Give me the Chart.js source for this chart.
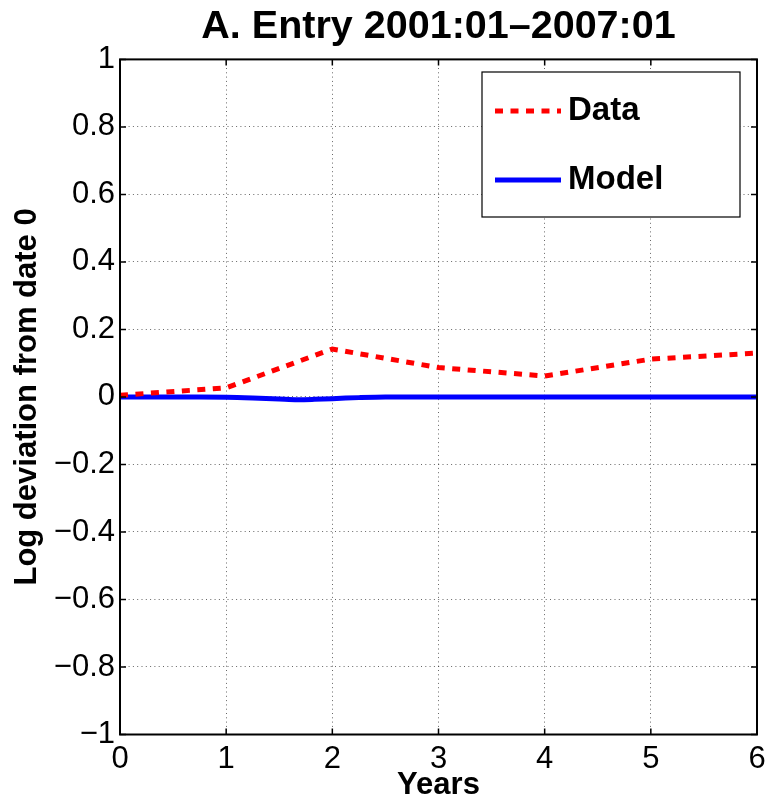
<!DOCTYPE html>
<html>
<head>
<meta charset="utf-8">
<style>
  html, body { margin: 0; padding: 0; background: #fff; }
  canvas { display: block; }
</style>
<script src="https://cdn.jsdelivr.net/npm/chart.js@4/dist/chart.umd.min.js"></script>
</head>
<body>
<canvas id="entryChart" width="770" height="803"></canvas>
<script>
// yearly data points
const years = [0, 1, 2, 3, 4, 5, 6];
const dataValues = [0.005, 0.027, 0.142, 0.087, 0.062, 0.112, 0.13];

// model path
const modelYears = [0, 0.5, 1, 1.25, 1.5, 1.67, 1.83, 2, 2.25, 2.5, 3, 4, 5, 6];
const modelValues = [0, 0, -0.001, -0.003, -0.006, -0.008, -0.007, -0.005, -0.002, 0, 0, 0, 0, 0];

// axis ticks
const xTicks = [0, 1, 2, 3, 4, 5, 6];
const yTicks = [-1, -0.8, -0.6, -0.4, -0.2, 0, 0.2, 0.4, 0.6, 0.8, 1];

const FONT = 'Liberation Sans, Arial, Helvetica, sans-serif';

function fmtTick(v) {
    const s = String(Math.round(v * 10) / 10);
    return s.replace('-', '\u2212');
}

// box around the axes with inward tick marks
const boxPlugin = {
    id: 'box',
    afterDraw(chart) {
        const ctx = chart.ctx;
        const a = chart.chartArea;
        const xs = chart.scales.x;
        const ys = chart.scales.y;
        const len = 6;
        ctx.save();
        ctx.strokeStyle = '#000';
        ctx.lineWidth = 1.5;
        ctx.beginPath();
        xTicks.forEach(t => {
            const px = xs.getPixelForValue(t);
            ctx.moveTo(px, a.bottom); ctx.lineTo(px, a.bottom - len);
            ctx.moveTo(px, a.top); ctx.lineTo(px, a.top + len);
        });
        yTicks.forEach(t => {
            const py = ys.getPixelForValue(t);
            ctx.moveTo(a.left, py); ctx.lineTo(a.left + len, py);
            ctx.moveTo(a.right, py); ctx.lineTo(a.right - len, py);
        });
        ctx.stroke();
        ctx.lineWidth = 2;
        ctx.strokeRect(a.left, a.top, a.right - a.left, a.bottom - a.top);
        ctx.restore();
    }
};

// legend box in the upper right of the plot
const legendPlugin = {
    id: 'boxLegend',
    afterDraw(chart) {
        const ctx = chart.ctx;
        const x0 = 482, y0 = 72, w = 258, h = 145;
        ctx.save();
        ctx.fillStyle = '#fff';
        ctx.fillRect(x0, y0, w, h);
        ctx.strokeStyle = '#000';
        ctx.lineWidth = 1.2;
        ctx.strokeRect(x0, y0, w, h);
        const rows = [111, 180];
        chart.data.datasets.forEach((ds, i) => {
            const y = rows[i];
            ctx.beginPath();
            ctx.strokeStyle = ds.borderColor;
            ctx.lineWidth = ds.borderWidth;
            ctx.setLineDash(ds.borderDash || []);
            ctx.moveTo(495, y);
            ctx.lineTo(561, y);
            ctx.stroke();
            ctx.setLineDash([]);
            ctx.fillStyle = '#000';
            ctx.font = 'bold 33px ' + FONT;
            ctx.textAlign = 'left';
            ctx.textBaseline = 'middle';
            ctx.fillText(ds.label, 568, y);
        });
        ctx.restore();
    }
};

const ctx = document.getElementById('entryChart').getContext('2d');
const entryChart = new Chart(ctx, {
    type: 'line',
    data: {
        datasets: [{
            label: 'Data',
            data: years.map((x, i) => ({ x: x, y: dataValues[i] })),
            borderColor: '#ff0000',
            borderWidth: 5,
            borderDash: [8, 7.5],
            pointRadius: 0,
            tension: 0
        }, {
            label: 'Model',
            data: modelYears.map((x, i) => ({ x: x, y: modelValues[i] })),
            borderColor: '#0000ff',
            borderWidth: 5,
            pointRadius: 0,
            tension: 0.3
        }]
    },
    options: {
        responsive: false,
        devicePixelRatio: 1,
        animation: false,
        layout: { padding: { left: 0, right: 13, top: 0, bottom: 0 } },
        plugins: {
            legend: { display: false },
            tooltip: { enabled: false },
            title: {
                display: true,
                text: 'A. Entry 2001:01\u20132007:01',
                fullSize: false,
                color: '#000',
                font: { family: FONT, size: 39.5, weight: 'bold', lineHeight: 1.2 },
                padding: { top: 3, bottom: 9 }
            }
        },
        scales: {
            x: {
                type: 'linear',
                min: 0,
                max: 6,
                afterBuildTicks: s => { s.ticks = xTicks.map(v => ({ value: v })); },
                afterFit: s => {
                    s.height = 68.5;
                    s.paddingLeft = 0;
                    s.paddingRight = 0;
                },
                ticks: {
                    color: '#000',
                    padding: 6,
                    maxRotation: 0,
                    font: { family: FONT, size: 31 },
                    callback: v => fmtTick(v)
                },
                grid: { color: 'rgba(0,0,0,0.6)', lineWidth: 1, drawTicks: false },
                border: { display: false, dash: [1, 3.3] },
                title: {
                    display: true,
                    text: 'Years',
                    color: '#000',
                    font: { family: FONT, size: 31, weight: 'bold', lineHeight: 1.2 },
                    padding: { top: 0, bottom: -1 }
                }
            },
            y: {
                type: 'linear',
                min: -1,
                max: 1,
                afterBuildTicks: s => { s.ticks = yTicks.map(v => ({ value: v })); },
                afterFit: s => { s.width = 120; },
                ticks: {
                    color: '#000',
                    padding: 5,
                    font: { family: FONT, size: 31 },
                    callback: v => fmtTick(v)
                },
                grid: { color: 'rgba(0,0,0,0.6)', lineWidth: 1, drawTicks: false },
                border: { display: false, dash: [1, 3.3] },
                title: {
                    display: true,
                    text: 'Log deviation from date 0',
                    color: '#000',
                    font: { family: FONT, size: 31, weight: 'bold', lineHeight: 1.2 },
                    padding: { top: 9, bottom: 0 }
                }
            }
        }
    },
    plugins: [boxPlugin, legendPlugin]
});
</script>
</body>
</html>
